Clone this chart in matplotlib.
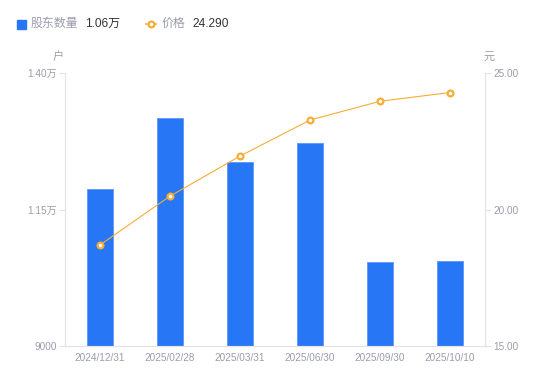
import matplotlib
matplotlib.use("Agg")
import matplotlib.pyplot as plt
import numpy as np
from matplotlib.lines import Line2D

plt.rcParams['font.family'] = ['Liberation Sans', 'Noto Sans CJK SC', 'DejaVu Sans']

dates = ['2024/12/31', '2025/02/28', '2025/03/31', '2025/06/30', '2025/09/30', '2025/10/10']
holders = [11880, 13180, 12370, 12720, 10540, 10560]
prices = [18.70, 20.49, 21.96, 23.28, 23.97, 24.29]
left_ticks = [9000, 11500, 14000]
left_labels = ['9000', '1.15万', '1.40万']
right_ticks = [15, 20, 25]

BLUE = '#2776f6'
ORANGE = '#f7ad35'
GREY = '#9b9cab'
AXIS = '#e3e3e8'

fig = plt.figure(figsize=(5.5, 3.81), dpi=100)
ax = fig.add_axes([0.118, 0.092, 0.764, 0.716])
x = np.arange(len(dates))

ax.bar(x, holders, width=0.36, color=BLUE, edgecolor='#5c97f8', linewidth=0.6, zorder=2)
ax.set_xlim(-0.5, len(dates) - 0.5)
ax.set_ylim(9000, 14000)
ax.set_yticks(left_ticks)
ax.set_yticklabels(left_labels)
ax.set_xticks(x)
ax.set_xticklabels(dates)

ax2 = ax.twinx()
ax2.plot(x, prices, color=ORANGE, lw=0.8, marker='o', ms=4.2,
         mfc='white', mec=ORANGE, mew=1.6, zorder=3)
ax2.set_ylim(15, 25)
ax2.set_yticks(right_ticks)
ax2.set_yticklabels(['%.2f' % t for t in right_ticks])

for a in (ax, ax2):
    for s in a.spines.values():
        s.set_color(AXIS)
        s.set_linewidth(0.8)
    a.spines['top'].set_visible(False)
    a.tick_params(colors=GREY, labelsize=7.2, length=4, width=0.8, pad=2)
    a.tick_params(axis='y', color=AXIS)
ax.tick_params(axis='x', length=0, pad=5)
ax2.tick_params(axis='x', length=0)

fig.text(53 / 550, 1 - 57 / 381, '户', color=GREY, fontsize=8, ha='left', va='center')
fig.text(484 / 550, 1 - 57 / 381, '元', color=GREY, fontsize=8, ha='left', va='center')

# legend
ly = 1 - 24 / 381
fig.patches.append(plt.Rectangle((17 / 550, 1 - 29 / 381), 9 / 550, 9 / 381,
                                 transform=fig.transFigure, color=BLUE, figure=fig))
fig.text(31 / 550, ly, '股东数量', color=GREY, fontsize=8.6, va='center')
fig.text(85 / 550, ly, '1.06万', color='#333333', fontsize=8.6, va='center')
fig.lines.append(Line2D([146 / 550, 156 / 550], [ly, ly], transform=fig.transFigure,
                        color=ORANGE, lw=1.2))
fig.lines.append(Line2D([151 / 550], [ly], transform=fig.transFigure, color=ORANGE,
                        marker='o', ms=4.2, mfc='white', mec=ORANGE, mew=1.6, lw=0))
fig.text(162 / 550, ly, '价格', color=GREY, fontsize=8.6, va='center')
fig.text(192 / 550, ly, '24.290', color='#333333', fontsize=8.6, va='center')

fig.savefig('out.png', dpi=100)
